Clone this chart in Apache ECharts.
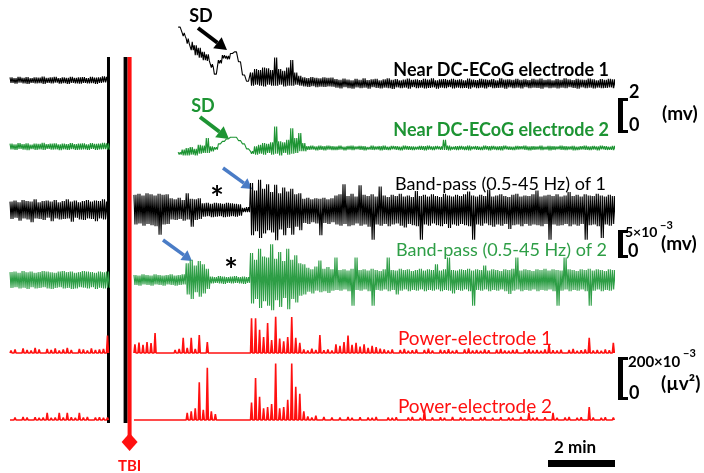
<!DOCTYPE html>
<html>
<head>
<meta charset="utf-8">
<script src="https://cdn.jsdelivr.net/npm/echarts@6/dist/echarts.min.js"></script>
<style>
  html, body { margin: 0; padding: 0; background: #fff; }
  #chart { width: 704px; height: 473px; }
</style>
</head>
<body>
<div id="chart"></div>
<script>
// envelope samples every STEP minutes; each sample = top/bottom of the trace in that bin
var STEP = 0.12;
var PRE_START = 0;        // min, pre-injury segment
var POST_START = 3.7;     // min, post-injury segment
var DC_POST_START = 5.02; // DC traces resume later after the injury artefact
var PRE_END_MARK = 2.94;  // end of baseline recording
var TBI_TIME = 3.57;

// Near DC-ECoG (mV)
var dc1PreHi = [0.40,0.36,0.44,0.38,0.42,0.35,0.41,0.39,0.45,0.37,0.40,0.43,0.36,0.41,0.38,0.44,0.37,0.40,0.42,0.36,0.43,0.39,0.41,0.46,0.44];
var dc1PreLo = [0.06,0.02,0.08,0.04,0.0,0.07,0.03,0.05,0.01,0.06,0.03,0.08,0.02,0.05,0.0,0.06,0.04,0.02,0.07,0.03,0.05,0.01,0.06,0.10,0.08];
var dc1PostHi = [3.45,3.1,2.75,2.55,2.35,2.2,1.95,1.8,1.2,0.6,1.45,1.75,1.7,1.85,1.95,1.35,0.55,0.17,0.7,0.9,0.85,1.0,0.95,0.85,1.6,0.9,0.8,1.0,1.45,0.7,0.5,
  0.40,0.36,0.42,0.38,0.35,0.41,0.37,0.39,
  0.30,0.25,0.33,0.27,0.22,0.31,0.26,0.34,0.24,0.29,0.32,0.23,0.28,0.35,0.25,0.30,0.22,0.27,0.33,0.26,
  0.29,0.24,0.31,0.27,0.34,0.23,0.28,0.30,0.25,0.32,0.26,0.29,0.22,0.33,0.27,0.24,0.31,0.28,0.25,0.30,
  0.23,0.34,0.27,0.29,0.25,0.32,0.26,0.28,0.24,0.31,0.27,0.33,0.25,0.29,0.22,0.30,0.26,0.34,0.28,0.24,
  0.31,0.27,0.25,0.33,0.29,0.23,0.30,0.26,0.32,0.28];
var dc1PostLo = [3.35,2.9,2.45,2.05,1.75,1.6,1.45,1.4,1.0,0.5,1.25,1.55,1.5,1.75,1.85,1.25,0.45,0.07,-0.1,-0.05,-0.1,-0.15,-0.05,-0.1,-0.1,-0.05,-0.15,-0.1,-0.1,-0.05,-0.1,
  -0.15,-0.18,-0.14,-0.19,-0.16,-0.18,-0.15,-0.17,
  -0.22,-0.27,-0.20,-0.25,-0.29,-0.21,-0.26,-0.23,-0.28,-0.20,-0.24,-0.27,-0.22,-0.26,-0.30,-0.21,-0.25,-0.23,-0.28,-0.20,
  -0.26,-0.22,-0.27,-0.24,-0.21,-0.29,-0.23,-0.25,-0.20,-0.27,-0.22,-0.26,-0.24,-0.28,-0.21,-0.25,-0.23,-0.27,-0.20,-0.26,
  -0.24,-0.22,-0.28,-0.21,-0.25,-0.23,-0.27,-0.20,-0.26,-0.22,-0.24,-0.29,-0.21,-0.25,-0.23,-0.27,-0.22,-0.26,-0.20,-0.24,
  -0.28,-0.21,-0.25,-0.23,-0.27,-0.22,-0.26,-0.24,-0.21,-0.25];

var dc2PreHi = [0.26,0.22,0.30,0.24,0.28,0.21,0.27,0.25,0.31,0.23,0.26,0.29,0.22,0.27,0.24,0.30,0.23,0.26,0.28,0.22,0.29,0.25,0.27,0.31,0.28];
var dc2PreLo = [-0.08,-0.12,-0.06,-0.10,-0.13,-0.07,-0.11,-0.09,-0.12,-0.06,-0.10,-0.08,-0.13,-0.09,-0.11,-0.07,-0.12,-0.10,-0.08,-0.11,-0.06,-0.12,-0.09,-0.07,-0.10];
var dc2PostHi = [-0.25,-0.1,0.0,0.05,-0.05,0.2,0.15,0.6,0.1,0.05,0.25,0.4,0.55,0.65,0.65,0.45,0.25,-0.05,-0.2,0.1,0.2,0.3,0.25,0.35,1.3,0.4,0.35,0.5,1.2,0.6,0.9,0.3,
  0.12,0.15,0.10,0.14,0.11,0.15,0.12,
  0.10,0.14,0.08,0.12,0.15,0.09,0.13,0.11,0.07,0.14,0.10,0.12,0.15,0.08,0.13,0.11,0.09,0.14,0.12,0.10,
  0.08,0.13,0.11,0.15,0.09,0.12,0.10,0.50,0.14,0.08,0.11,0.13,0.09,0.15,0.10,0.12,0.08,0.14,0.11,0.13,
  0.09,0.12,0.15,0.10,0.08,0.13,0.11,0.14,0.09,0.12,0.10,0.15,0.08,0.13,0.11,0.09,0.14,0.12,0.10,0.13,
  0.08,0.11,0.15,0.09,0.12,0.10,0.14,0.11,0.08,0.13];
var dc2PostLo = [-0.4,-0.45,-0.45,-0.4,-0.45,-0.35,-0.3,-0.3,-0.2,-0.1,0.15,0.3,0.45,0.55,0.55,0.35,0.15,-0.15,-0.35,-0.4,-0.35,-0.4,-0.3,-0.4,-0.35,-0.45,-0.3,-0.4,-0.35,-0.3,-0.2,-0.2,
  -0.12,-0.10,-0.15,-0.11,-0.14,-0.10,-0.13,
  -0.12,-0.09,-0.14,-0.10,-0.13,-0.08,-0.11,-0.15,-0.10,-0.12,-0.09,-0.14,-0.11,-0.13,-0.08,-0.12,-0.15,-0.10,-0.11,-0.13,
  -0.09,-0.12,-0.14,-0.10,-0.13,-0.08,-0.11,-0.12,-0.15,-0.09,-0.13,-0.10,-0.12,-0.14,-0.08,-0.11,-0.13,-0.09,-0.15,-0.10,
  -0.12,-0.14,-0.09,-0.11,-0.13,-0.10,-0.08,-0.12,-0.14,-0.11,-0.09,-0.13,-0.10,-0.15,-0.12,-0.08,-0.11,-0.13,-0.10,-0.14,
  -0.12,-0.09,-0.11,-0.13,-0.10,-0.15,-0.08,-0.12,-0.11,-0.13];

// Band-pass 0.5-45 Hz (x10^-3 mV)
var bp1PreHi = [1.5,1.7,1.4,1.8,1.6,1.5,1.9,1.4,1.6,1.7,1.5,1.8,1.4,1.6,1.9,1.5,1.7,1.4,1.6,1.8,1.5,1.7,1.6,1.9,1.5];
var bp1PreLo = [-1.6,-1.4,-1.9,-1.5,-1.7,-2.2,-1.5,-1.6,-1.8,-1.4,-2.0,-1.5,-1.7,-1.6,-1.5,-2.1,-1.4,-1.7,-1.8,-1.5,-1.6,-2.0,-1.5,-1.7,-1.6];
var bp1PostHi = [2.7,2.9,2.6,3.0,2.8,2.6,2.9,2.7,2.8, 2.1,1.9,2.2,1.8,3.0,2.0,1.9,2.1,
  1.2,1.3,1.1,1.3,1.2,1.1,1.3,1.2,1.1,1.0, 0.4,0.5,
  4.8,3.5,5.4,3.8,4.6,3.2,4.5,3.0,4.0,3.3,3.8,2.8,3.0,
  2.0,2.2,1.9,2.1,2.0,2.2,1.9,2.1,
  2.6,2.8,4.6,2.5,2.9,2.4,4.4,2.7,2.5,2.8,2.4,4.2,2.6,2.3,2.7,2.5,2.9,2.4,2.6,2.3,
  3.4,2.5,2.7,2.4,2.8,2.5,2.3,2.9,2.6,2.4,2.7,2.5,2.8,3.3,2.6,2.4,2.7,2.5,3.6,2.4,
  2.6,2.8,2.5,2.3,2.7,2.9,2.4,2.6,2.5,2.8,3.5,2.4,2.6,2.7,2.5,2.8,2.4,2.6,3.2,2.5,
  2.7,2.4,2.8,2.6,2.5,2.9,2.6,2.4,2.7,2.5];
var bp1PostLo = [-2.6,-2.4,-2.8,-2.5,-2.7,-2.9,-4.4,-2.6,-2.5, -1.7,-1.8,-1.6,-1.9,-1.7,-3.0,-1.8,-1.6,
  -1.2,-1.1,-1.3,-1.2,-1.1,-1.3,-1.2,-1.1,-1.2,-1.0, -0.4,-0.4,
  -4.5,-3.8,-5.0,-4.2,-3.6,-4.0,-5.4,-3.5,-4.5,-3.2,-4.4,-3.0,-3.6,
  -2.3,-2.5,-2.2,-2.4,-4.5,-2.3,-2.5,-2.2,
  -2.6,-2.8,-2.5,-2.9,-2.7,-2.4,-2.8,-2.6,-3.0,-5.3,-2.6,-2.8,-2.5,-2.9,-2.6,-2.4,-2.8,-3.1,-2.5,-2.7,
  -2.9,-5.3,-2.6,-2.8,-2.4,-2.7,-2.9,-2.5,-3.2,-2.6,-2.8,-2.5,-2.7,-2.9,-5.3,-2.6,-2.8,-2.4,-2.7,-3.0,
  -2.6,-2.8,-2.5,-3.4,-2.7,-2.6,-2.9,-2.5,-2.8,-2.6,-2.7,-2.9,-2.5,-5.3,-2.6,-2.8,-2.7,-2.5,-2.9,-2.6,
  -2.8,-2.5,-5.3,-2.7,-2.6,-2.9,-5.0,-2.6,-2.8,-2.5];

var bp2PreHi = [1.4,1.5,1.3,1.6,1.4,1.5,1.3,1.4,1.6,1.5,1.4,1.3,1.5,1.6,1.4,1.5,1.3,1.4,1.6,1.5,1.4,1.3,1.5,1.4,1.5];
var bp2PreLo = [-1.4,-1.3,-1.5,-1.4,-1.6,-1.3,-1.5,-1.4,-1.3,-1.5,-1.6,-1.4,-1.3,-1.5,-1.4,-1.6,-1.5,-1.3,-1.4,-1.5,-1.3,-1.6,-1.4,-1.5,-1.4];
var bp2PostHi = [0.9,0.8,1.0,0.9,0.8,1.0,0.9,0.8,0.9,1.0,0.8,0.9,1.0,
  3.0,3.6,2.6,3.4,2.8,2.0,
  0.6,0.5,0.7,0.6,0.5,0.6,0.7,0.5,0.6,0.5,
  4.8,3.6,5.6,4.2,4.0,6.4,3.8,5.0,3.4,5.6,3.6,4.4,3.0,2.8,
  2.2,1.9,2.4,3.5,2.0,2.3,1.9,
  4.0,1.8,1.9,1.7,2.0,4.0,1.8,1.9,1.7,2.0,1.8,1.6,1.9,4.0,1.8,1.7,2.0,1.8,1.9,1.6,
  1.8,2.0,1.7,1.9,1.8,2.8,1.7,1.9,4.0,1.8,1.7,1.9,1.8,2.0,1.7,1.9,1.8,2.6,1.7,1.9,
  1.8,1.6,1.9,1.8,2.0,4.0,1.7,1.9,1.8,1.6,1.9,1.8,2.0,1.7,1.9,1.8,1.7,4.0,1.9,1.8,
  1.6,1.9,1.8,2.0,1.7,1.9,1.8,1.6,1.9,1.8];
var bp2PostLo = [-0.9,-1.0,-0.8,-0.9,-1.0,-0.8,-0.9,-1.0,-0.8,-0.9,-1.0,-0.9,-0.8,
  -2.6,-3.4,-2.2,-3.0,-2.4,-1.6,
  -0.6,-0.5,-0.6,-0.7,-0.5,-0.6,-0.5,-0.6,-0.7,-0.5,
  -4.2,-3.4,-5.0,-3.8,-4.6,-5.4,-3.6,-4.8,-3.2,-5.2,-3.4,-4.0,-2.8,-2.6,
  -2.1,-2.4,-1.9,-2.2,-2.0,-2.3,-1.9,
  -1.8,-1.9,-1.7,-2.0,-4.6,-1.8,-1.9,-1.7,-2.0,-4.6,-1.8,-1.9,-1.7,-2.0,-1.8,-2.6,-1.9,-1.7,-2.0,-1.8,
  -1.9,-1.7,-2.0,-1.8,-1.9,-1.7,-2.0,-1.8,-1.9,-2.4,-1.8,-1.9,-1.7,-2.0,-4.6,-1.8,-1.9,-1.7,-2.0,-1.8,
  -1.9,-1.7,-2.0,-2.5,-1.9,-1.7,-2.0,-1.8,-1.9,-1.7,-2.0,-1.8,-1.9,-1.7,-2.0,-4.6,-1.9,-1.7,-2.0,-1.8,
  -1.9,-1.7,-2.0,-4.6,-1.9,-1.7,-2.0,-1.8,-1.9,-1.7];

// Power (x10^-3 uV^2)
var pw1Pre = [8,12,6,16,10,8,18,12,6,14,10,16,8,12,18,10,6,14,12,8,16,10,12,14,60];
var pw1Post = [30,36,28,38,34,69, 3,2,2,3, 10,14,52,18,52,14,62, 5,38,
  2,2,3,2,2,3,2,2,3,4,
  120,120,80,55,103,45,125,50,40,55,124,52,35,
  12,8,15,10,62,9,12,8,
  30,25,38,60,28,35,22,30,18,25,20,15,12,
  8,12,6,10,14,7,9,12,6,10,15,8,6,11,9,13,7,10,6,12,
  16,8,10,7,12,9,6,11,14,8,7,10,12,6,9,13,8,10,7,12,
  30,9,8,11,6,10,14,7,9,12,52,8,10,7,12,9,35];
var pw2Pre = [6,8,5,10,8,6,9,7,8,25,7,8,25,8,25,9,7,25,8,10,6,8,9,7,8];
var pw2Post = [1,1,2,1,1,2,1,1,2,1,1,2,1,
  25,30,40,130,35,180,30,20,
  2,1,1,2,1,1,2,1,
  60,145,80,40,45,55,195,40,45,70,195,115,90,30,
  12,8,15,6,10,5,8,
  6,8,5,10,7,6,9,5,8,7,10,6,5,8,7,9,6,5,8,10,
  6,7,35,6,8,5,9,7,6,10,5,8,7,6,9,5,8,10,6,7,
  5,9,6,8,7,5,10,6,25,7,8,6,9,5,25,7,6,8,10,5,
  7,9,6,45,8,5,7,9,6,8];

// labels
var traceNames = ['Near DC-ECoG electrode 1', 'Near DC-ECoG electrode 2',
  'Band-pass (0.5-45 Hz) of 1', 'Band-pass (0.5-45 Hz) of 2',
  'Power-electrode 1', 'Power-electrode 2'];
var scaleLabels = [['2', '0', '(mv)'], ['5×10', '0', '(mv)'], ['200×10', '0', '(µv²)']];
var timeBarMinutes = 2;

var BLACK = '#000000', GREEN = '#1d9433', GREEN2 = '#2e9e46', RED = '#ff1010', BLUE = '#4a7cc6';
var H = 473;

// dense zigzag between the top and bottom of each bin so the band reads as a filled trace
function envelope(t0, hi, lo) {
  var pts = [], q = STEP / 4;
  for (var i = 0; i < hi.length; i++) {
    var t = t0 + i * STEP;
    pts.push([t, hi[i]], [t + q, lo[i]], [t + 2 * q, hi[i]], [t + 3 * q, lo[i]]);
  }
  return pts;
}
// narrow spikes up from zero for the power traces
function spikes(t0, vals) {
  var pts = [];
  for (var i = 0; i < vals.length; i++) {
    var t = t0 + i * STEP;
    pts.push([t, 0], [t + STEP / 4, vals[i]], [t + STEP / 2, 0]);
  }
  return pts;
}
function joined(a, b) { return a.concat([[3.3, '-']], b); }

// baseline pixel + pixels per unit for each trace's own y axis
var layout = [
  { base: 84, ppu: 16.5 }, { base: 148, ppu: 16.5 },
  { base: 210, ppu: 5.6 }, { base: 280, ppu: 5.6 },
  { base: 353, ppu: 0.29 }, { base: 420, ppu: 0.29 }
];
var yAxes = layout.map(function (l) {
  return { type: 'value', gridIndex: 0, show: false, scale: true,
    max: l.base / l.ppu, min: -(H - l.base) / l.ppu };
});

var traceData = [
  joined(envelope(PRE_START, dc1PreHi, dc1PreLo), envelope(DC_POST_START, dc1PostHi, dc1PostLo)),
  joined(envelope(PRE_START, dc2PreHi, dc2PreLo), envelope(DC_POST_START, dc2PostHi, dc2PostLo)),
  joined(envelope(PRE_START, bp1PreHi, bp1PreLo), envelope(POST_START, bp1PostHi, bp1PostLo)),
  joined(envelope(PRE_START, bp2PreHi, bp2PreLo), envelope(POST_START, bp2PostHi, bp2PostLo)),
  joined(spikes(PRE_START, pw1Pre), spikes(POST_START, pw1Post)),
  joined(spikes(PRE_START, pw2Pre), spikes(POST_START, pw2Post))
];
var colors = [BLACK, GREEN, BLACK, GREEN2, RED, RED];

var series = traceData.map(function (d, i) {
  var s = { type: 'line', yAxisIndex: i, data: d, symbol: 'none', silent: true,
    connectNulls: false, lineStyle: { color: colors[i], width: i < 4 ? 1.1 : 1.6 } };
  if (i >= 4) s.areaStyle = { color: RED, opacity: 1 };
  return s;
});

var chart = echarts.init(document.getElementById('chart'));
chart.setOption({
  animation: false,
  backgroundColor: '#fff',
  grid: { left: 10, top: 0, width: 603, height: H },
  xAxis: { type: 'value', min: 0, max: 18, show: false },
  yAxis: yAxes,
  series: series
});

function txt(s, x, y, font, color, align) {
  return { type: 'text', x: x, y: y, silent: true,
    style: { text: s, x: 0, y: 0, font: font, fill: color,
      textAlign: align || 'left', textVerticalAlign: 'middle', align: align || 'left', verticalAlign: 'middle' } };
}
function rect(x, y, w, h, color) {
  return { type: 'rect', silent: true, shape: { x: x, y: y, width: w, height: h }, style: { fill: color } };
}
function arrow(x1, y1, x2, y2, color, w, hl, hw) {
  var dx = x2 - x1, dy = y2 - y1, L = Math.sqrt(dx * dx + dy * dy), ux = dx / L, uy = dy / L;
  var bx = x2 - ux * hl, by = y2 - uy * hl;
  return [
    { type: 'line', silent: true, shape: { x1: x1, y1: y1, x2: bx, y2: by }, style: { stroke: color, lineWidth: w } },
    { type: 'polygon', silent: true, shape: { points: [[x2, y2], [bx - uy * hw, by + ux * hw], [bx + uy * hw, by - ux * hw]] }, style: { fill: color } }
  ];
}
function bracket(x, top, bottom) {
  return [rect(x, top, 5, bottom - top, BLACK), rect(x, top, 10, 3, BLACK), rect(x, bottom - 3, 10, 3, BLACK)];
}

var xPre = chart.convertToPixel({ xAxisIndex: 0 }, PRE_END_MARK);
var xTbi = chart.convertToPixel({ xAxisIndex: 0 }, TBI_TIME);
var x0 = chart.convertToPixel({ xAxisIndex: 0 }, 0);
var barW = chart.convertToPixel({ xAxisIndex: 0 }, timeBarMinutes) - x0;

var BOLD = 'bold 18px Lato';
var g = [];
// injury markers
g.push(rect(xPre - 1.5, 57, 3, 366, BLACK));
g.push(rect(xTbi - 6, 57, 4, 366, BLACK));
g.push(rect(xTbi - 2, 57, 4, 384, RED));
g.push({ type: 'polygon', silent: true, shape: { points: [[xTbi, 433], [xTbi + 8, 442], [xTbi, 451], [xTbi - 8, 442]] }, style: { fill: RED } });
g.push(txt('TBI', xTbi, 466, 'bold 15px Lato', RED, 'center'));

// trace labels
g.push(txt(traceNames[0], 609, 70, BOLD, BLACK, 'right'));
g.push(txt(traceNames[1], 609, 130, BOLD, GREEN, 'right'));
g.push(txt(traceNames[2], 606, 184, '18px Lato', BLACK, 'right'));
g.push(txt(traceNames[3], 607, 250, '18px Lato', GREEN2, 'right'));
g.push(txt(traceNames[4], 475, 339, '19px Lato', RED, 'center'));
g.push(txt(traceNames[5], 475, 407, '19px Lato', RED, 'center'));

// SD annotations
g.push(txt('SD', 201, 16, 'bold 18px Lato', BLACK, 'center'));
g = g.concat(arrow(198, 28, 227, 50, BLACK, 4, 12, 7));
g.push(txt('SD', 203, 106, 'bold 18px Lato', GREEN, 'center'));
g = g.concat(arrow(200, 117, 229, 139, GREEN, 4, 12, 7));
g = g.concat(arrow(223, 168, 252, 189, BLUE, 3.5, 10, 6));
g = g.concat(arrow(163, 240, 192, 261, BLUE, 3.5, 10, 6));
g.push(txt('*', 217, 200, 'bold 32px Lato', BLACK, 'center'));
g.push(txt('*', 231, 272, 'bold 32px Lato', BLACK, 'center'));

// vertical scale bars
g = g.concat(bracket(618, 98, 133));
g.push(txt(scaleLabels[0][0], 629, 92, 'bold 18px Lato', BLACK, 'left'));
g.push(txt(scaleLabels[0][1], 629, 125, 'bold 18px Lato', BLACK, 'left'));
g.push(txt(scaleLabels[0][2], 662, 114, 'bold 19px Lato', BLACK, 'left'));

g = g.concat(bracket(618, 230, 258));
g.push(txt(scaleLabels[1][0], 625, 232, 'bold 14px Lato', BLACK, 'left'));
g.push(txt('−3', 660, 225, 'bold 11px Lato', BLACK, 'left'));
g.push(txt(scaleLabels[1][1], 628, 251, 'bold 18px Lato', BLACK, 'left'));
g.push(txt(scaleLabels[1][2], 661, 244, 'bold 19px Lato', BLACK, 'left'));

g = g.concat(bracket(618, 357, 400));
g.push(txt(scaleLabels[2][0], 628, 362, 'bold 15px Lato', BLACK, 'left'));
g.push(txt('−3', 683, 353, 'bold 11px Lato', BLACK, 'left'));
g.push(txt(scaleLabels[2][1], 629, 393, 'bold 18px Lato', BLACK, 'left'));
g.push(txt(scaleLabels[2][2], 661, 384, 'bold 19px Lato', BLACK, 'left'));

// time scale bar
g.push(txt(timeBarMinutes + ' min', 575, 448, 'bold 17px Lato', BLACK, 'center'));
g.push(rect(548, 460, barW, 7, BLACK));

chart.setOption({ graphic: { elements: g } });
</script>
</body>
</html>
